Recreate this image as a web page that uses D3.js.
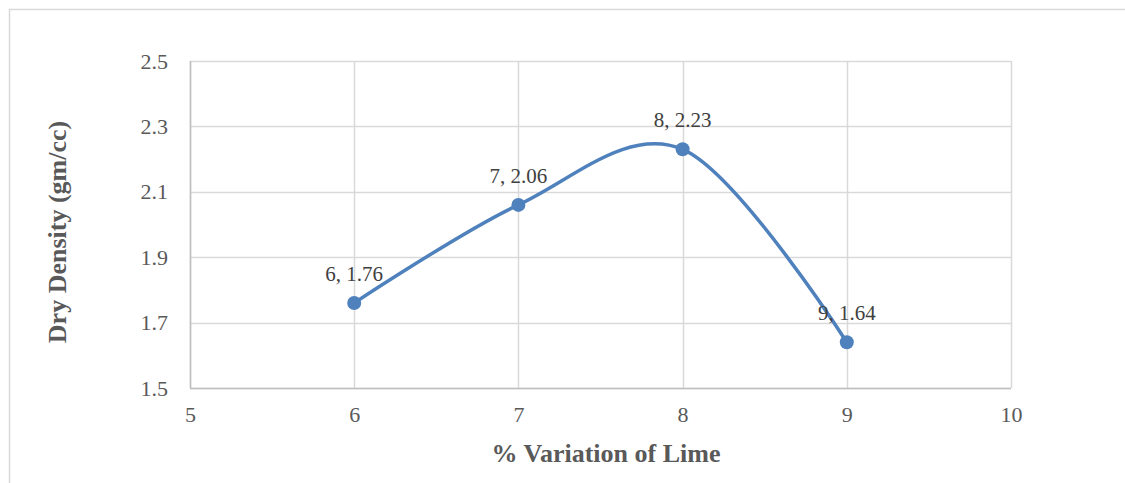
<!DOCTYPE html>
<html>
<head>
<meta charset="utf-8">
<script src="https://cdn.jsdelivr.net/npm/d3@7"></script>
<style>
  body { margin: 0; background: #fff; }
  text { font-family: "Liberation Serif", "Times New Roman", serif; }
</style>
</head>
<body>
<script>
// data
var limePct = [6, 7, 8, 9];
var dryDensity = [1.76, 2.06, 2.23, 1.64];
var xTicks = [5, 6, 7, 8, 9, 10];
var yTicks = [1.5, 1.7, 1.9, 2.1, 2.3, 2.5];

var width = 1125;
var height = 483;

// plot area
var plotLeft = 190, plotRight = 1011, plotTop = 61, plotBottom = 388;

var svg = d3.select("body")
    .append("svg")
    .attr("width", width)
    .attr("height", height);

// outer chart border
svg.append("rect")
    .attr("x", 9.5)
    .attr("y", 9.5)
    .attr("width", 1130)
    .attr("height", 490)
    .style("fill", "none")
    .style("stroke", "#d9d9d9")
    .style("stroke-width", 1.5);

var xScale = d3.scaleLinear().domain([5, 10]).range([plotLeft, plotRight]);
var yScale = d3.scaleLinear().domain([1.5, 2.5]).range([plotBottom, plotTop]);

// gridlines
svg.append("g")
    .selectAll("line")
    .data(yTicks)
    .enter().append("line")
    .attr("x1", plotLeft)
    .attr("x2", plotRight)
    .attr("y1", function(d) { return Math.round(yScale(d)) + 0.5; })
    .attr("y2", function(d) { return Math.round(yScale(d)) + 0.5; })
    .style("stroke", "#d9d9d9")
    .style("stroke-width", 1.5);

svg.append("g")
    .selectAll("line")
    .data(xTicks)
    .enter().append("line")
    .attr("x1", function(d) { return Math.round(xScale(d)) + 0.5; })
    .attr("x2", function(d) { return Math.round(xScale(d)) + 0.5; })
    .attr("y1", plotTop)
    .attr("y2", plotBottom)
    .style("stroke", "#d9d9d9")
    .style("stroke-width", 1.5);

// axis lines
svg.append("line")
    .attr("x1", plotLeft).attr("x2", plotRight)
    .attr("y1", plotBottom + 0.5).attr("y2", plotBottom + 0.5)
    .style("stroke", "#bfbfbf").style("stroke-width", 1.5);
svg.append("line")
    .attr("x1", plotLeft + 0.5).attr("x2", plotLeft + 0.5)
    .attr("y1", plotTop).attr("y2", plotBottom)
    .style("stroke", "#bfbfbf").style("stroke-width", 1.5);

// tick labels
var yAxis = d3.axisLeft(yScale)
    .tickValues(yTicks)
    .tickFormat(d3.format(".1f"))
    .tickSize(0)
    .tickPadding(22);

var gy = svg.append("g")
    .attr("transform", "translate(" + plotLeft + ",0)")
    .call(yAxis);
gy.select(".domain").remove();
gy.selectAll("text")
    .attr("font-size", "22px")
    .attr("fill", "#595959");

var xAxis = d3.axisBottom(xScale)
    .tickValues(xTicks)
    .tickFormat(d3.format("d"))
    .tickSize(0)
    .tickPadding(18);

var gx = svg.append("g")
    .attr("transform", "translate(0," + plotBottom + ")")
    .call(xAxis);
gx.select(".domain").remove();
gx.selectAll("text")
    .attr("font-size", "22px")
    .attr("fill", "#595959");

// axis titles
svg.append("text")
    .attr("x", 606)
    .attr("y", 462)
    .attr("text-anchor", "middle")
    .attr("font-size", "26px")
    .attr("font-weight", "700")
    .attr("fill", "#595959")
    .text("% Variation of Lime");

svg.append("text")
    .attr("transform", "translate(66,232) rotate(-90)")
    .attr("text-anchor", "middle")
    .attr("font-size", "26px")
    .attr("font-weight", "700")
    .attr("fill", "#595959")
    .text("Dry Density (gm/cc)");

// smoothed series line
var points = limePct.map(function(x, i) { return [x, dryDensity[i]]; });

var line = d3.line()
    .x(function(d) { return xScale(d[0]); })
    .y(function(d) { return yScale(d[1]); })
    .curve(d3.curveCardinal.tension(0));

svg.append("path")
    .datum(points)
    .attr("d", line)
    .style("fill", "none")
    .style("stroke", "#4f81bd")
    .style("stroke-width", 3.5);

svg.append("g")
    .selectAll("circle")
    .data(points)
    .enter().append("circle")
    .attr("cx", function(d) { return xScale(d[0]); })
    .attr("cy", function(d) { return yScale(d[1]); })
    .attr("r", 7)
    .style("fill", "#4f81bd");

// data labels
svg.append("g")
    .selectAll("text")
    .data(points)
    .enter().append("text")
    .attr("x", function(d) { return xScale(d[0]); })
    .attr("y", function(d) { return yScale(d[1]) - 22; })
    .attr("text-anchor", "middle")
    .attr("font-size", "21px")
    .attr("fill", "#404040")
    .text(function(d) { return d[0] + ", " + d[1]; });
</script>
</body>
</html>
